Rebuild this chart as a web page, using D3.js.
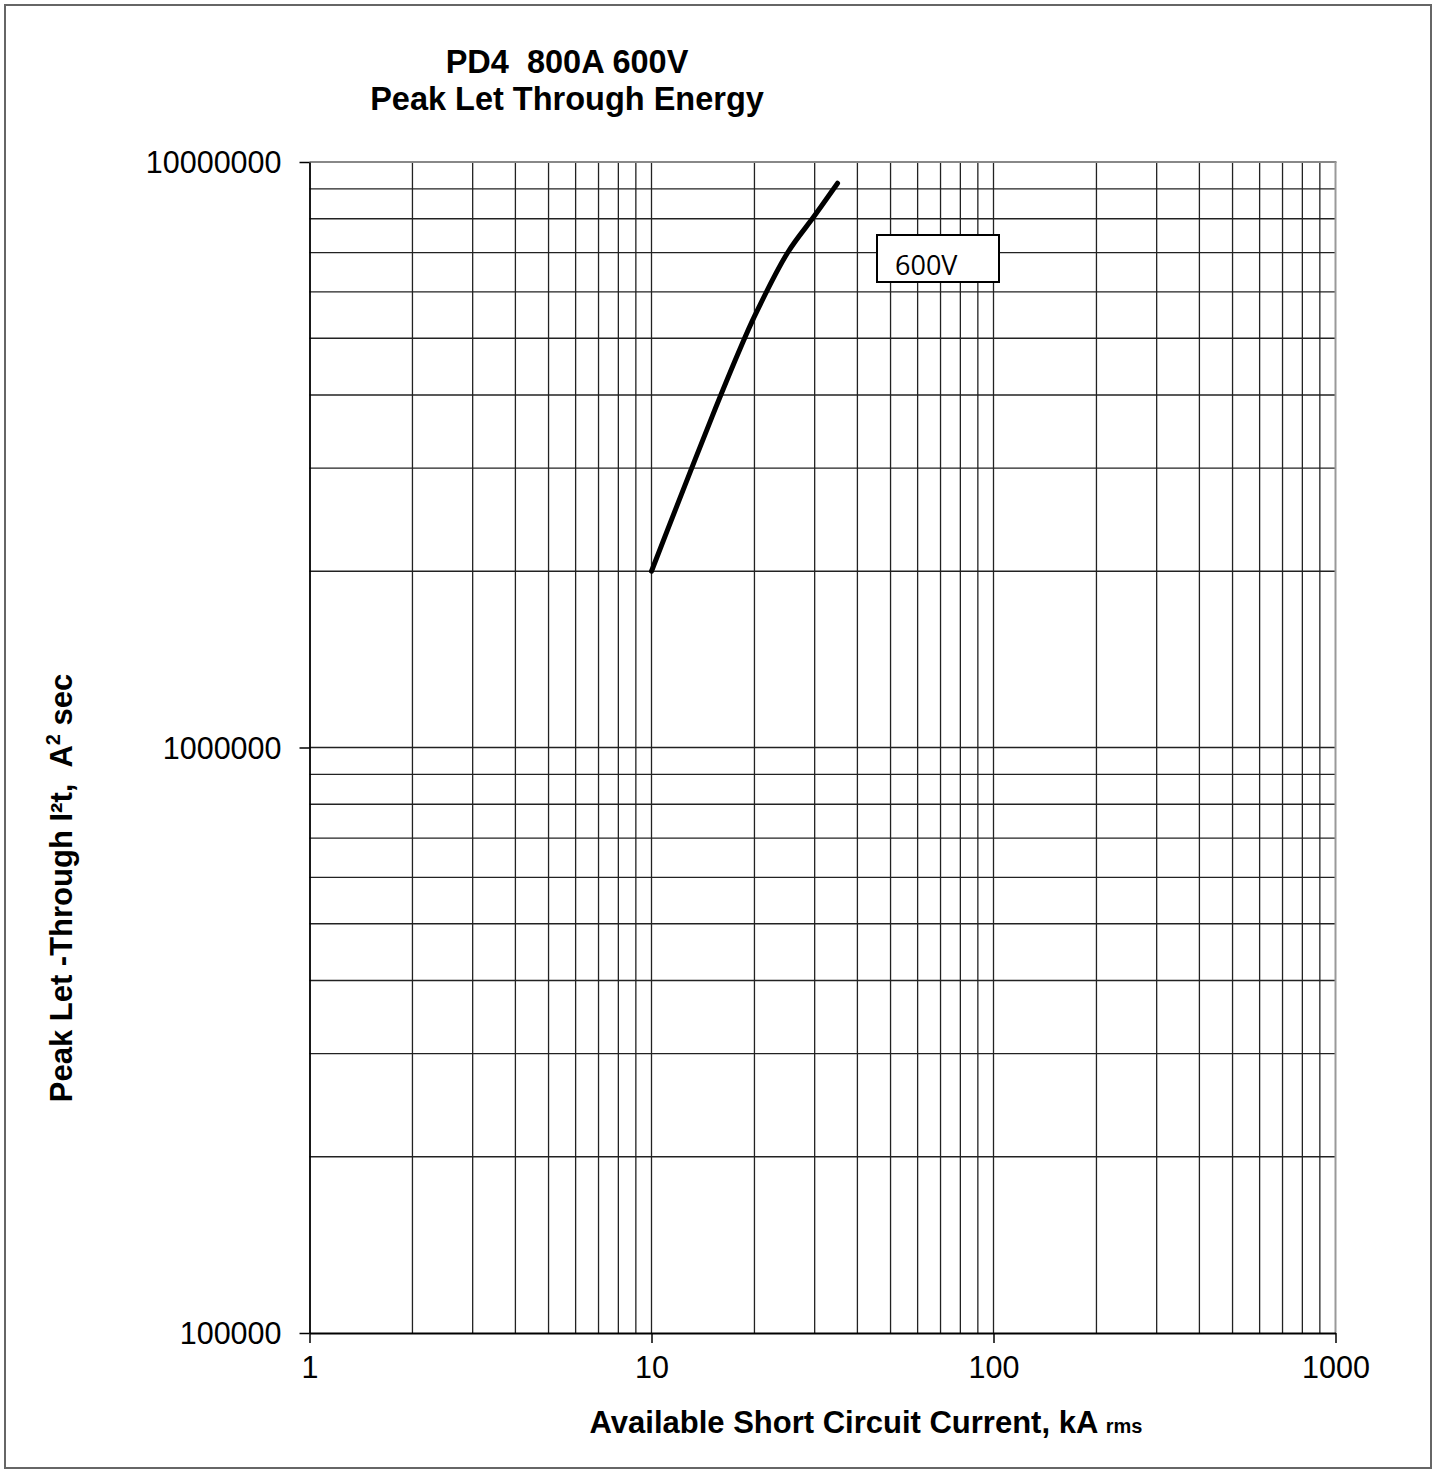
<!DOCTYPE html>
<html><head><meta charset="utf-8">
<script src="https://cdn.jsdelivr.net/npm/d3@7"></script>
<style>body{margin:0;background:#fff}svg{display:block}text{font-family:"Liberation Sans",Arial,sans-serif}</style>
</head><body><svg id="c" width="1439" height="1473"></svg>
<script>
const titleLines = ["PD4  800A 600V", "Peak Let Through Energy"];
const xTickValues = [1, 10, 100, 1000];
const xTickLabels = ["1", "10", "100", "1000"];
const yTickValues = [1e5, 1e6, 1e7];
const yTickLabels = ["100000", "1000000", "10000000"];
const currentKA = [10, 12, 15, 18, 20, 25, 30, 35];
const letThrough = [2.0e6, 2.63e6, 3.66e6, 4.74e6, 5.45e6, 7.0e6, 8.1e6, 9.2e6];
const seriesLabel = "600V";

const svg = d3.select("#c");
const L = 309.5, R = 1335.5, T = 162, B = 1333;
const x = d3.scaleLog().domain([1, 1000]).range([L, R]);
const y = d3.scaleLog().domain([1e5, 1e7]).range([B, T]);

svg.append("rect").attr("x", 5).attr("y", 5).attr("width", 1426).attr("height", 1463)
  .attr("fill", "none").attr("stroke", "#666").attr("stroke-width", 2);

const xg = [];
for (let d = 1; d < 1000; d *= 10) for (let k = 1; k < 10; k++) if (!(d === 1 && k === 1)) xg.push(d * k);
const yg = [];
for (let d = 1e5; d < 1e7; d *= 10) for (let k = 1; k < 10; k++) if (!(d === 1e5 && k === 1)) yg.push(d * k);

const g = svg.append("g");
g.selectAll("line.vx").data(xg).join("line")
  .attr("x1", d => x(d)).attr("x2", d => x(d)).attr("y1", T).attr("y2", B)
  .attr("stroke", "#222").attr("stroke-width", 1.3);
g.selectAll("line.hy").data(yg).join("line")
  .attr("y1", d => y(d)).attr("y2", d => y(d)).attr("x1", L).attr("x2", R)
  .attr("stroke", "#222").attr("stroke-width", 1.3);

svg.append("line").attr("x1", L).attr("x2", R + 1).attr("y1", T).attr("y2", T).attr("stroke", "#888").attr("stroke-width", 2);
svg.append("line").attr("x1", R).attr("x2", R).attr("y1", T).attr("y2", B).attr("stroke", "#999").attr("stroke-width", 2);

const xAxis = d3.axisBottom(x).tickValues(xTickValues).tickFormat((d, i) => xTickLabels[i]).tickSize(10).tickSizeOuter(0).tickPadding(13);
const yAxis = d3.axisLeft(y).tickValues(yTickValues).tickFormat((d, i) => yTickLabels[i]).tickSize(10).tickSizeOuter(0).tickPadding(18);
const gx = svg.append("g").attr("transform", `translate(0,${B})`).call(xAxis);
const gy = svg.append("g").attr("transform", `translate(${L},0)`).call(yAxis);
[gx, gy].forEach(a => {
  a.select(".domain").attr("stroke", "#000").attr("stroke-width", 1.8);
  a.selectAll(".tick line").attr("stroke", "#000").attr("stroke-width", 1.5);
  a.selectAll(".tick text").attr("font-size", 30.5).attr("fill", "#000").style("font-family", '"Liberation Sans", Arial, sans-serif');
});
gy.selectAll(".tick text").attr("dy", "0.36em");

const pts = currentKA.map((c, i) => [c, letThrough[i]]);
svg.append("path").datum(pts)
  .attr("d", d3.line().x(d => x(d[0])).y(d => y(d[1])).curve(d3.curveCatmullRom.alpha(0.5)))
  .attr("fill", "none").attr("stroke", "#000").attr("stroke-width", 5).attr("stroke-linecap", "round");

svg.append("rect").attr("x", 877).attr("y", 235).attr("width", 122).attr("height", 47)
  .attr("fill", "#fff").attr("stroke", "#000").attr("stroke-width", 2);
svg.append("text").attr("x", 895).attr("y", 275).attr("font-size", 27)
  .style("font-family", '"Open Sans", "Noto Sans", sans-serif').text(seriesLabel);

svg.append("text").attr("x", 567).attr("y", 73).attr("text-anchor", "middle").attr("font-size", 32.5).attr("font-weight", "bold")
  .style("white-space", "pre").text(titleLines[0]);
svg.append("text").attr("x", 567).attr("y", 110).attr("text-anchor", "middle").attr("font-size", 32.5).attr("font-weight", "bold")
  .text(titleLines[1]);

const xt = svg.append("text").attr("x", 866).attr("y", 1433).attr("text-anchor", "middle").attr("font-size", 31).attr("font-weight", "bold");
xt.append("tspan").text("Available Short Circuit Current, kA ");
xt.append("tspan").attr("font-size", 20).text("rms");

const yt = svg.append("text").attr("transform", "translate(72,888) rotate(-90)").attr("text-anchor", "middle")
  .attr("font-size", 31).attr("font-weight", "bold").style("white-space", "pre");
yt.append("tspan").text("Peak Let -Through I²t,  A");
yt.append("tspan").attr("font-size", 20).attr("dy", -12).text("2");
yt.append("tspan").attr("dy", 12).text(" sec");
</script></body></html>
